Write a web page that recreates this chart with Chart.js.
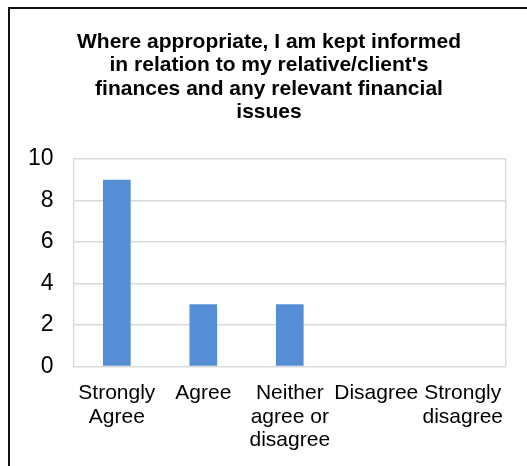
<!DOCTYPE html>
<html>
<head>
<meta charset="utf-8">
<script src="https://cdn.jsdelivr.net/npm/chart.js@4/dist/chart.umd.min.js"></script>
<style>
  html, body { margin: 0; padding: 0; background: #fff; overflow: hidden; }
  #wrap { position: relative; width: 527px; height: 466px; overflow: hidden; }
  #chart { position: absolute; left: 0; top: 0; }
  .frame { position: absolute; background: #111; }
  #frameTop { left: 8px; top: 7px; width: 519px; height: 2px; }
  #frameLeft { left: 8px; top: 7px; width: 2px; height: 459px; }
</style>
</head>
<body>
<div id="wrap">
  <canvas id="chart" width="533" height="466"></canvas>
  <div class="frame" id="frameTop"></div>
  <div class="frame" id="frameLeft"></div>
</div>
<script>
// Survey responses for one statement
const titleLines = [
  "Where appropriate, I am kept informed",
  "in relation to my relative/client's",
  "finances and any relevant financial",
  "issues"
];
const categories = [
  ["Strongly", "Agree"],
  ["Agree"],
  ["Neither", "agree or", "disagree"],
  ["Disagree"],
  ["Strongly", "disagree"]
];
const responses = [9, 3, 3, 0, 0];
const yTicks = [0, 2, 4, 6, 8, 10];

const FONT = "'Liberation Sans', Arial, sans-serif";

new Chart(document.getElementById('chart'), {
  type: 'bar',
  data: {
    labels: categories,
    datasets: [{
      data: responses,
      backgroundColor: '#558ed5',
      borderWidth: 0,
      categoryPercentage: 1,
      barPercentage: 0.32
    }]
  },
  options: {
    responsive: false,
    animation: false,
    layout: { padding: { left: 8, right: 3, top: 30, bottom: 7 } },
    plugins: {
      legend: { display: false },
      tooltip: { enabled: false },
      title: {
        display: true,
        text: titleLines,
        color: '#000',
        font: { family: FONT, size: 21, weight: 'bold', lineHeight: 1.12 },
        padding: { top: 0, bottom: 35 }
      }
    },
    scales: {
      x: {
        grid: { display: false },
        border: { display: false },
        ticks: {
          color: '#000',
          font: { family: FONT, size: 21, lineHeight: 1.12 },
          padding: 7,
          maxRotation: 0,
          autoSkip: false
        }
      },
      y: {
        min: 0,
        max: 10,
        afterBuildTicks(scale) {
          scale.ticks = yTicks.map(v => ({ value: v }));
        },
        grid: { color: '#d9d9d9', lineWidth: 1.5, drawTicks: false },
        border: { display: true, color: '#d9d9d9', width: 1.5 },
        ticks: {
          color: '#000',
          font: { family: FONT, size: 23 },
          padding: 20
        }
      },
      // Right-hand edge of the plotting area
      yRight: {
        position: 'right',
        min: 0,
        max: 10,
        grid: { display: false, drawTicks: false },
        border: { display: true, color: '#d9d9d9', width: 1.5 },
        ticks: { display: false },
        afterFit(scale) { scale.width = 24; }
      }
    }
  }
});
</script>
</body>
</html>
